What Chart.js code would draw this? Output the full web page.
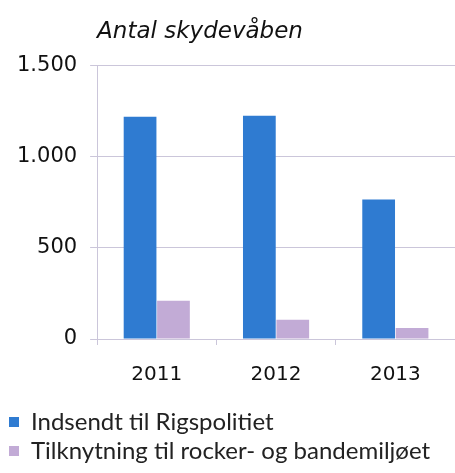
<!DOCTYPE html>
<html>
<head>
<meta charset="utf-8">
<script src="https://cdn.jsdelivr.net/npm/chart.js@4"></script>
<style>
  html, body { margin: 0; padding: 0; background: #fff; }
</style>
</head>
<body>
<canvas id="gunsChart" width="455" height="473"></canvas>
<script>
// data
const years = ['2011', '2012', '2013'];
const sentToRigspolitiet = [1220, 1225, 765];
const gangRelated = [210, 105, 60];
const yTicks = [0, 500, 1000, 1500];

const gridColor = '#cbc6da';

// "1.500" style thousands separator
function formatDa(v) {
    return String(v).replace(/\B(?=(\d{3})+(?!\d))/g, '.');
}

const ctx = document.getElementById('gunsChart');
new Chart(ctx, {
    type: 'bar',
    data: {
        labels: years,
        datasets: [
            {
                label: 'Indsendt til Rigspolitiet',
                data: sentToRigspolitiet,
                backgroundColor: '#2f7bd1',
                barPercentage: 0.98,
                categoryPercentage: 0.56
            },
            {
                label: 'Tilknytning til rocker- og bandemiljøet',
                data: gangRelated,
                backgroundColor: '#c2abd6',
                barPercentage: 0.98,
                categoryPercentage: 0.56
            }
        ]
    },
    options: {
        responsive: false,
        animation: false,
        layout: {
            padding: { left: 4, right: 0, top: 12, bottom: 0 }
        },
        plugins: {
            title: {
                display: true,
                text: 'Antal skydevåben',
                align: 'start',
                fullSize: false,
                color: '#111',
                font: { family: 'DejaVu Sans', size: 23, style: 'italic', weight: 'normal' },
                padding: { top: 6, bottom: 20 }
            },
            legend: {
                position: 'bottom',
                align: 'start',
                labels: {
                    boxWidth: 10,
                    boxHeight: 10,
                    padding: 5,
                    color: '#222',
                    font: { family: 'Lato', size: 24 }
                }
            },
            tooltip: { enabled: false }
        },
        scales: {
            x: {
                grid: {
                    display: true,
                    drawOnChartArea: false,
                    tickLength: 6,
                    color: gridColor
                },
                border: { color: gridColor },
                ticks: {
                    color: '#111',
                    padding: 18,
                    font: { family: 'DejaVu Sans', size: 20 }
                }
            },
            y: {
                min: 0,
                max: 1500,
                afterBuildTicks: function(axis) {
                    axis.ticks = yTicks.map(v => ({ value: v }));
                },
                grid: {
                    color: gridColor,
                    tickLength: 7
                },
                border: { color: gridColor },
                ticks: {
                    color: '#111',
                    padding: 13,
                    font: { family: 'DejaVu Sans', size: 21 },
                    callback: function(value) {
                        return formatDa(value);
                    }
                }
            }
        }
    }
});
</script>
</body>
</html>
